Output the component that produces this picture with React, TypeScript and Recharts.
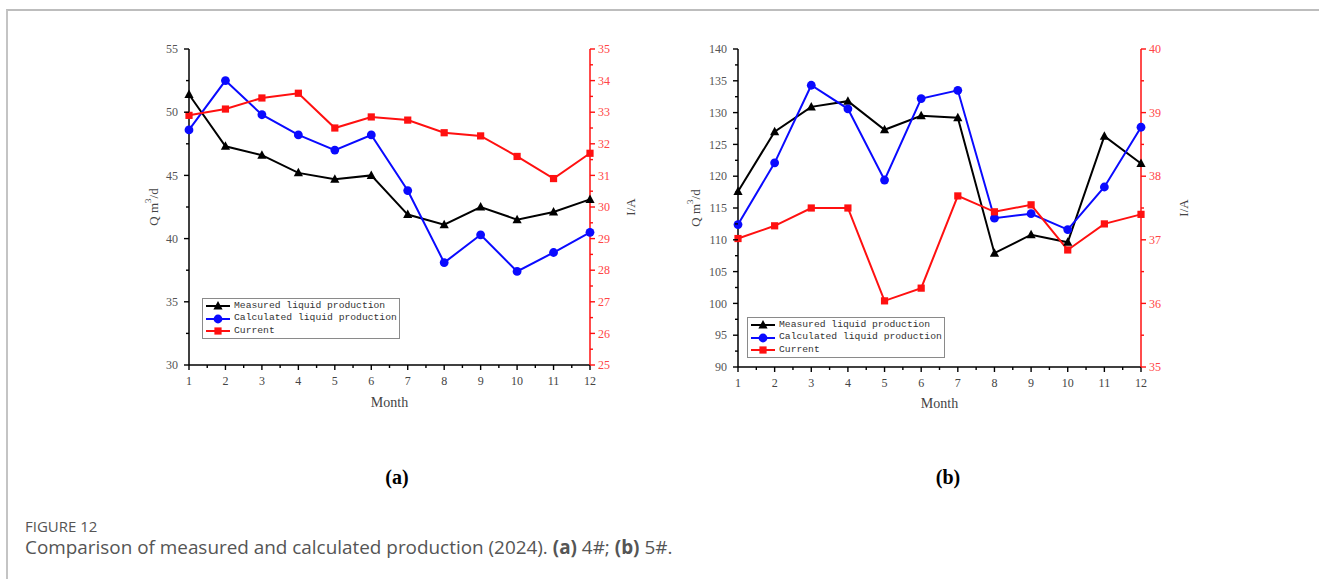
import React from 'react';
import { LineChart, Line, XAxis, YAxis, Legend } from 'recharts';

// months on the x axis
const months = [1, 2, 3, 4, 5, 6, 7, 8, 9, 10, 11, 12];

// (a) well 4#
const measuredA = [51.4, 47.3, 46.6, 45.2, 44.7, 45.0, 41.9, 41.1, 42.5, 41.5, 42.1, 43.1];
const calculatedA = [48.6, 52.5, 49.8, 48.2, 47.0, 48.2, 43.8, 38.1, 40.3, 37.4, 38.9, 40.5];
const currentA = [32.9, 33.1, 33.45, 33.6, 32.5, 32.85, 32.75, 32.35, 32.25, 31.6, 30.9, 31.7];

// (b) well 5#
const measuredB = [117.6, 127.0, 130.9, 131.8, 127.3, 129.5, 129.2, 107.9, 110.8, 109.6, 126.3, 122.0];
const calculatedB = [112.4, 122.1, 134.3, 130.6, 119.4, 132.2, 133.5, 113.4, 114.1, 111.6, 118.3, 127.7];
const currentB = [37.02, 37.22, 37.5, 37.5, 36.04, 36.24, 37.69, 37.44, 37.55, 36.84, 37.25, 37.4];

const monthTicks = [1, 2, 3, 4, 5, 6, 7, 8, 9, 10, 11, 12];
const qTicksA = [30, 35, 40, 45, 50, 55];
const iTicksA = [25, 26, 27, 28, 29, 30, 31, 32, 33, 34, 35];
const qTicksB = [90, 95, 100, 105, 110, 115, 120, 125, 130, 135, 140];
const iTicksB = [35, 36, 37, 38, 39, 40];

const seriesNames = ['Measured liquid production', 'Calculated liquid production', 'Current'];

const BLACK = '#000000';
const BLUE = '#0a0aff';
const RED = '#ff1010';
const RED_TEXT = '#ff4545';
const SERIF = '"Liberation Serif", "Times New Roman", serif';
const TS = 5;
const TM = 4;

// adds half-step minor ticks between the major ones
const withMinor = (t: number[]) => {
  const out: number[] = [];
  t.forEach((v, i) => {
    out.push(v);
    if (i < t.length - 1) out.push((v + t[i + 1]) / 2);
  });
  return out;
};

const build = (m: number[], c: number[], cur: number[]) =>
  months.map((month, i) => ({ month, measured: m[i], calculated: c[i], current: cur[i] }));

const dataA = build(measuredA, calculatedA, currentA);
const dataB = build(measuredB, calculatedB, currentB);

const AxisTick = (props: any) => {
  const { x, y, payload, side, majors, lineColor, textColor } = props;
  const v = payload.value;
  const major = majors.includes(v);
  const len = major ? 5 : 3;
  if (side === 'left') {
    const ax = x + TS + TM;
    return (
      <g>
        <line x1={ax} x2={ax - len} y1={y} y2={y} stroke={lineColor} strokeWidth={1.4} />
        {major && (
          <text x={x - 2} y={y} dy="0.35em" textAnchor="end" fontFamily={SERIF} fontSize={12} fill={textColor}>
            {v}
          </text>
        )}
      </g>
    );
  }
  if (side === 'right') {
    const ax = x - TS - TM;
    return (
      <g>
        <line x1={ax} x2={ax + len} y1={y} y2={y} stroke={lineColor} strokeWidth={1.4} />
        {major && (
          <text x={x - 1} y={y} dy="0.35em" textAnchor="start" fontFamily={SERIF} fontSize={12} fill={textColor}>
            {v}
          </text>
        )}
      </g>
    );
  }
  const ay = y - TS - TM;
  return (
    <g>
      <line x1={x} x2={x} y1={ay} y2={ay + len} stroke={lineColor} strokeWidth={1.4} />
      {major && (
        <text x={x} y={y + 2} dy="0.71em" textAnchor="middle" fontFamily={SERIF} fontSize={12} fill={textColor}>
          {v}
        </text>
      )}
    </g>
  );
};

const Triangle = (props: any) => {
  const { cx, cy } = props;
  if (cx == null || cy == null) return null;
  return <polygon points={`${cx},${cy - 5} ${cx - 4.6},${cy + 3.5} ${cx + 4.6},${cy + 3.5}`} fill={BLACK} />;
};

const Circle = (props: any) => {
  const { cx, cy } = props;
  if (cx == null || cy == null) return null;
  return <circle cx={cx} cy={cy} r={4.4} fill={BLUE} />;
};

const Square = (props: any) => {
  const { cx, cy } = props;
  if (cx == null || cy == null) return null;
  return <rect x={cx - 3.6} y={cy - 3.6} width={7.2} height={7.2} fill={RED} />;
};

const markerFor: Record<string, any> = { measured: Triangle, calculated: Circle, current: Square };

const LegendBox = ({ payload }: any) => {
  const items = [...(payload || [])].sort(
    (a: any, b: any) => seriesNames.indexOf(a.value) - seriesNames.indexOf(b.value)
  );
  return (
    <div
      style={{
        border: '1px solid #8a8a8a',
        background: '#fff',
        padding: '1px 2px 1px 2px',
        fontFamily: '"Liberation Mono", "DejaVu Sans Mono", monospace',
        fontSize: 9.7,
        color: '#333',
        lineHeight: '12.4px',
        whiteSpace: 'nowrap',
      }}
    >
      {items.map((item: any) => {
        const M = markerFor[item.dataKey];
        return (
          <div key={item.dataKey} style={{ display: 'flex', alignItems: 'center' }}>
            <svg width={26} height={12}>
              <line x1={1} x2={25} y1={6} y2={6} stroke={item.color} strokeWidth={2} />
              <M cx={13} cy={6} />
            </svg>
            <span style={{ marginLeft: 3 }}>{item.value}</span>
          </div>
        );
      })}
    </div>
  );
};

const QLabel = (dx: number) => (props: any) => {
  const vb = props.viewBox;
  const cx = vb.x + dx;
  const cy = vb.y + vb.height / 2;
  return (
    <text
      x={cx}
      y={cy}
      transform={`rotate(-90 ${cx} ${cy})`}
      textAnchor="middle"
      dominantBaseline="central"
      fontFamily={SERIF}
      fontSize={13}
      fill="#444"
    >
      Q m<tspan dy={-5} fontSize={9}>3</tspan>
      <tspan dy={5}>/d</tspan>
    </text>
  );
};

const ILabel = (dx: number) => (props: any) => {
  const vb = props.viewBox;
  const cx = vb.x + dx;
  const cy = vb.y + vb.height / 2;
  return (
    <text
      x={cx}
      y={cy}
      transform={`rotate(-90 ${cx} ${cy})`}
      textAnchor="middle"
      dominantBaseline="central"
      fontFamily={SERIF}
      fontSize={13}
      fill="#444"
    >
      I/A
    </text>
  );
};

const MonthLabel = (dy: number) => (props: any) => {
  const vb = props.viewBox;
  return (
    <text
      x={vb.x + vb.width / 2}
      y={vb.y + dy}
      textAnchor="middle"
      dominantBaseline="central"
      fontFamily={SERIF}
      fontSize={14}
      fill="#444"
    >
      Month
    </text>
  );
};

interface PanelProps {
  data: any[];
  qTicks: number[];
  iTicks: number[];
  leftWidth: number;
  rightWidth: number;
  xHeight: number;
  qDx: number;
  iDx: number;
  monthDy: number;
  legendLeft: number;
  legendTop: number;
}

const Panel: React.FC<PanelProps> = (p) => (
  <LineChart width={540} height={400} data={p.data} margin={{ top: 19, right: 0, left: 0, bottom: 0 }}>
    <XAxis
      dataKey="month"
      type="number"
      domain={[1, 12]}
      ticks={withMinor(monthTicks)}
      interval={0}
      height={p.xHeight}
      tickSize={TS}
      tickMargin={TM}
      tickLine={false}
      axisLine={{ stroke: BLACK, strokeWidth: 1.5 }}
      tick={(t: any) => <AxisTick {...t} side="bottom" majors={monthTicks} lineColor={BLACK} textColor="#444" />}
      label={MonthLabel(p.monthDy)}
    />
    <YAxis
      yAxisId="q"
      orientation="left"
      type="number"
      domain={[p.qTicks[0], p.qTicks[p.qTicks.length - 1]]}
      ticks={withMinor(p.qTicks)}
      interval={0}
      width={p.leftWidth}
      tickSize={TS}
      tickMargin={TM}
      tickLine={false}
      axisLine={{ stroke: BLACK, strokeWidth: 1.5 }}
      tick={(t: any) => <AxisTick {...t} side="left" majors={p.qTicks} lineColor={BLACK} textColor="#555" />}
      label={QLabel(p.qDx)}
    />
    <YAxis
      yAxisId="i"
      orientation="right"
      type="number"
      domain={[p.iTicks[0], p.iTicks[p.iTicks.length - 1]]}
      ticks={withMinor(p.iTicks)}
      interval={0}
      width={p.rightWidth}
      tickSize={TS}
      tickMargin={TM}
      tickLine={false}
      axisLine={{ stroke: RED, strokeWidth: 1.5 }}
      tick={(t: any) => <AxisTick {...t} side="right" majors={p.iTicks} lineColor={RED} textColor={RED_TEXT} />}
      label={ILabel(p.iDx)}
    />
    <Legend
      layout="vertical"
      verticalAlign="middle"
      align="center"
      content={LegendBox}
      wrapperStyle={{ left: p.legendLeft, top: p.legendTop, width: 'auto' }}
    />
    <Line
      yAxisId="q"
      dataKey="measured"
      name={seriesNames[0]}
      stroke={BLACK}
      strokeWidth={2}
      dot={<Triangle />}
      activeDot={false}
      isAnimationActive={false}
    />
    <Line
      yAxisId="q"
      dataKey="calculated"
      name={seriesNames[1]}
      stroke={BLUE}
      strokeWidth={2}
      dot={<Circle />}
      activeDot={false}
      isAnimationActive={false}
    />
    <Line
      yAxisId="i"
      dataKey="current"
      name={seriesNames[2]}
      stroke={RED}
      strokeWidth={2}
      dot={<Square />}
      activeDot={false}
      isAnimationActive={false}
    />
  </LineChart>
);

export default function App() {
  return (
    <div
      style={{
        position: 'absolute',
        left: 0,
        top: 0,
        width: 1319,
        height: 579,
        background: '#fff',
        overflow: 'hidden',
      }}
    >
      <div
        style={{
          position: 'absolute',
          left: 6,
          top: 9,
          width: 1313,
          height: 580,
          borderTop: '2px solid #bdbdbd',
          borderLeft: '2px solid #c4c4c4',
          boxSizing: 'border-box',
        }}
      />
      <div style={{ position: 'absolute', left: 120, top: 30 }}>
        <Panel
          data={dataA}
          qTicks={qTicksA}
          iTicks={iTicksA}
          leftWidth={69}
          rightWidth={70}
          xHeight={65}
          qDx={33}
          iDx={40}
          monthDy={37}
          legendLeft={82}
          legendTop={268}
        />
      </div>
      <div style={{ position: 'absolute', left: 668, top: 30 }}>
        <Panel
          data={dataB}
          qTicks={qTicksB}
          iTicks={iTicksB}
          leftWidth={70}
          rightWidth={67}
          xHeight={63}
          qDx={27}
          iDx={42}
          monthDy={36}
          legendLeft={79}
          legendTop={287}
        />
      </div>
      <div
        style={{
          position: 'absolute',
          left: 397,
          top: 477,
          transform: 'translate(-50%, -50%)',
          fontFamily: SERIF,
          fontWeight: 'bold',
          fontSize: 20,
        }}
      >
        (a)
      </div>
      <div
        style={{
          position: 'absolute',
          left: 948,
          top: 477,
          transform: 'translate(-50%, -50%)',
          fontFamily: SERIF,
          fontWeight: 'bold',
          fontSize: 20,
        }}
      >
        (b)
      </div>
      <div
        style={{
          position: 'absolute',
          left: 25,
          top: 518,
          fontFamily: '"Open Sans", sans-serif',
          fontSize: 15,
          color: '#555',
          lineHeight: '16px',
        }}
      >
        FIGURE 12
      </div>
      <div
        style={{
          position: 'absolute',
          left: 25,
          top: 536,
          fontFamily: '"Open Sans", sans-serif',
          fontSize: 18.9,
          color: '#555',
          lineHeight: '22px',
          whiteSpace: 'nowrap',
        }}
      >
        Comparison of measured and calculated production (2024). <b>(a)</b> 4#; <b>(b)</b> 5#.
      </div>
    </div>
  );
}
